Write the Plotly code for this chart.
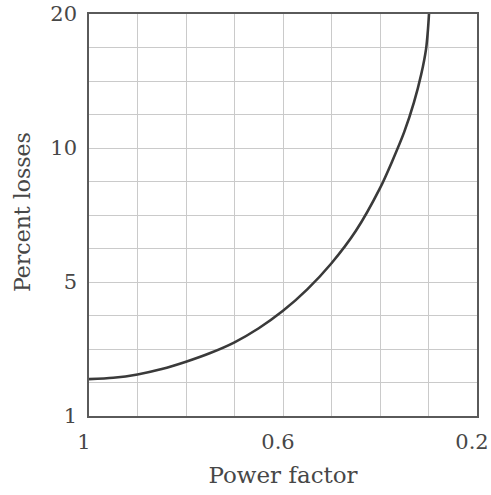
import numpy as np
import plotly.graph_objects as go

# Data
power_factor = [1.0, 0.95, 0.9, 0.85, 0.8, 0.75, 0.7, 0.65, 0.6, 0.55, 0.5,
                0.45, 0.4, 0.375, 0.35, 0.33, 0.315, 0.305, 0.301, 0.299]
percent_losses = [2.10, 2.14, 2.24, 2.40, 2.62, 2.88, 3.20, 3.62, 4.14, 4.78, 5.70,
                  6.90, 8.50, 9.50, 11.2, 13.4, 15.5, 17.4, 18.9, 20.0]

y_tick_values = [1, 5, 10, 20]
y_tick_labels = ["1", "5", "10", "20"]
x_tick_values = [1.0, 0.6, 0.2]
x_tick_labels = ["1", "0.6", "0.2"]

# The printed y scale spaces 1, 5, 10, 20 equally: map values onto that scale
scale_pos = list(range(len(y_tick_values)))
def to_scale(v):
    return np.interp(v, y_tick_values, scale_pos)

y_plot = to_scale(np.array(percent_losses))

x_minor = [round(1.0 - 0.1 * i, 2) for i in range(9)]
y_minor = [i * 0.25 for i in range(13)]

font_family = "DejaVu Serif, Liberation Serif, serif"
grid_col = "#cacaca"
frame_col = "#5a5a5a"
text_col = "#474747"

W, H = 491, 495
ML, MR, MT, MB = 89, 14, 14, 79

fig = go.Figure()
fig.add_trace(go.Scatter(
    x=power_factor, y=y_plot, mode="lines",
    line=dict(color="#3a3a3a", width=2.6, shape="spline", smoothing=0.8),
    showlegend=False, hoverinfo="skip",
))

fig.update_layout(
    width=W, height=H,
    margin=dict(l=ML, r=MR, t=MT, b=MB),
    paper_bgcolor="white", plot_bgcolor="white",
    font=dict(family=font_family, color=text_col, size=21),
    xaxis=dict(
        range=[1.0, 0.2], tickvals=x_tick_values, ticktext=x_tick_labels,
        showgrid=True, gridcolor=grid_col, gridwidth=1,
        minor=dict(tickvals=x_minor, showgrid=True, gridcolor=grid_col, gridwidth=1, ticks=""),
        showline=True, linecolor=frame_col, linewidth=1.6, mirror=True,
        ticks="outside", ticklen=6, tickcolor="rgba(0,0,0,0)",
        tickfont=dict(size=21, family=font_family, color=text_col),
        ticklabeloverflow="allow", ticklabelshift=5,
        title=dict(text="Power factor", font=dict(size=23, family=font_family, color=text_col), standoff=14),
        zeroline=False, automargin=False,
    ),
    yaxis=dict(
        range=[0, 3], tickvals=scale_pos, ticktext=y_tick_labels,
        showgrid=True, gridcolor=grid_col, gridwidth=1,
        minor=dict(tickvals=y_minor, showgrid=True, gridcolor=grid_col, gridwidth=1, ticks=""),
        showline=True, linecolor=frame_col, linewidth=1.6, mirror=True,
        ticks="outside", ticklen=6, tickcolor="rgba(0,0,0,0)",
        tickfont=dict(size=21, family=font_family, color=text_col),
        ticklabeloverflow="allow",
        zeroline=False, automargin=False,
    ),
    annotations=[dict(
        text="Percent losses", textangle=-90, showarrow=False,
        xref="paper", yref="paper",
        x=(22 - ML) / (W - ML - MR), y=(H - MB - 212) / (H - MT - MB),
        xanchor="center", yanchor="middle",
        font=dict(size=22, family=font_family, color=text_col),
    )],
)

fig.write_html("out.html")
